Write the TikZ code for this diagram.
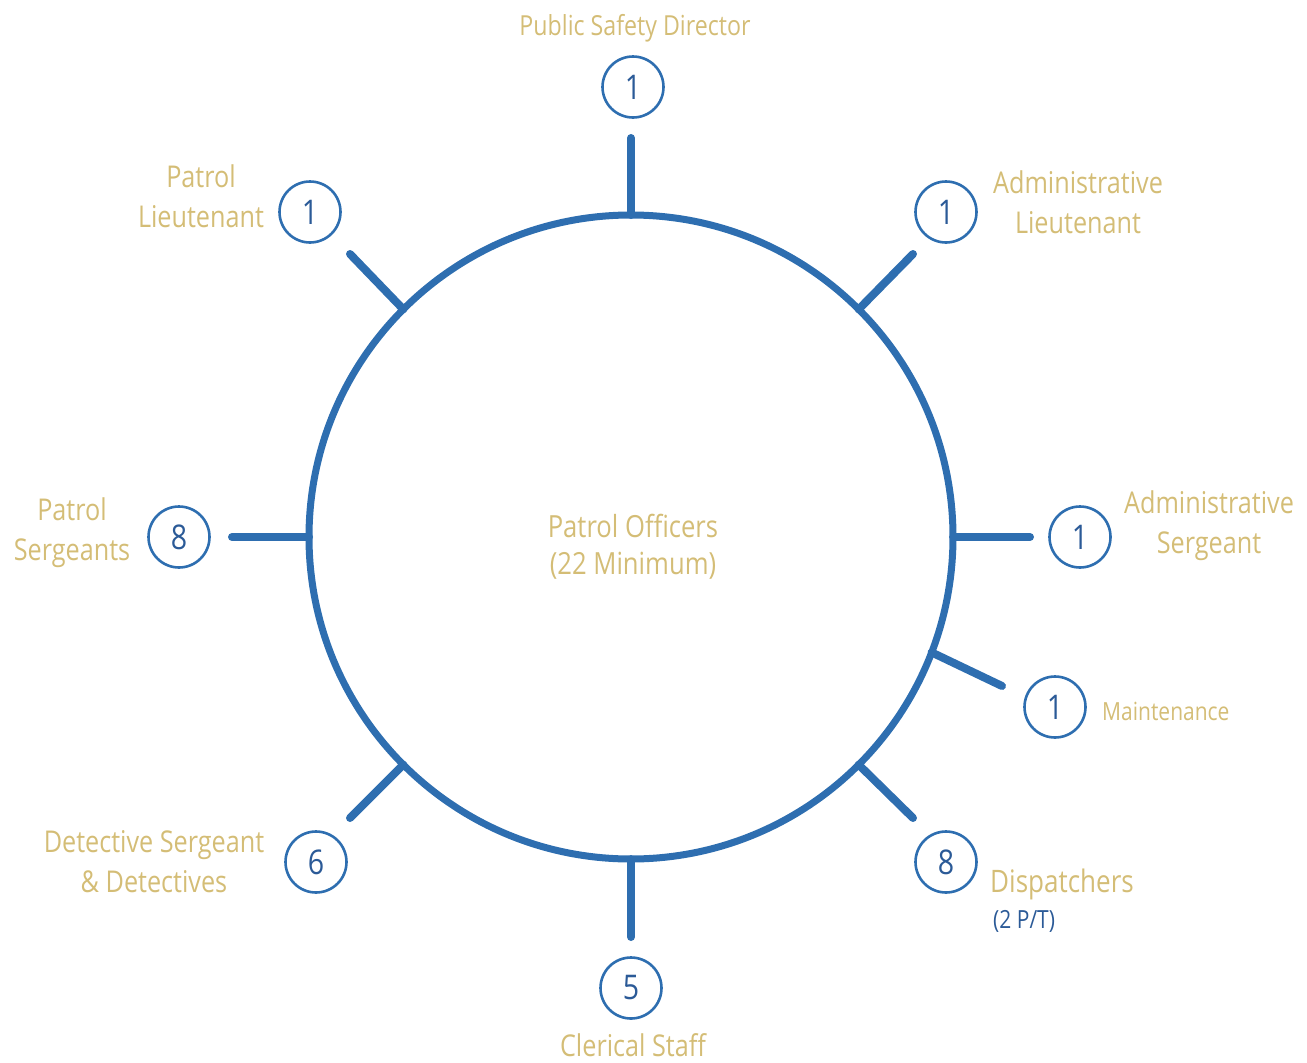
\documentclass[tikz,border=0pt]{standalone}
\usepackage{fontspec}
\setmainfont{Open Sans}[FakeStretch=0.84]
\definecolor{ringblue}{HTML}{2E6EB0}
\definecolor{numblue}{HTML}{2B5A97}
\definecolor{gold}{HTML}{D4BD76}
\begin{document}
\begin{tikzpicture}[x=1pt,y=-1pt,
  ring/.style={circle,draw=ringblue,line width=7pt,minimum size=644pt,inner sep=0pt,outer sep=0pt},
  count/.style={circle,draw=ringblue,line width=2.6pt,minimum size=61pt,inner sep=0pt,
    text=numblue,font=\fontsize{34}{34}\selectfont},
  spoke/.style={ringblue,line width=8pt,line cap=round},
  role/.style={text=gold,align=center,inner sep=0pt,anchor=base,
    font=\fontsize{30}{40}\selectfont},
  note/.style={text=gold,inner sep=0pt,anchor=base west,font=\fontsize{30}{30}\selectfont}]
\useasboundingbox (0,0) rectangle (1307,1063);

% central ring (labels are placed by the baseline of their last line)
\node[ring] (c) at (631,537) {};
\node[role,font=\fontsize{30.5}{37}\selectfont] (po) at (633,574) {Patrol Officers\\(22 Minimum)};

% position counts
\node[count] (n1) at (633,87) {1};
\node[count] (n2) at (310,212) {1};
\node[count] (n3) at (946,212) {1};
\node[count] (n4) at (1080,537) {1};
\node[count] (n5) at (1055,707) {1};
\node[count] (n6) at (946,862) {8};
\node[count] (n7) at (631,988) {5};
\node[count] (n8) at (316,862) {6};
\node[count] (n9) at (179,537) {8};

% free ends of the spokes
\coordinate (e1) at (631,138);
\coordinate (e2) at (350,254);
\coordinate (e3) at (913,254);
\coordinate (e4) at (1030,537);
\coordinate (e5) at (1002,686);
\coordinate (e6) at (913,818);
\coordinate (e7) at (631,937);
\coordinate (e8) at (350,818);
\coordinate (e9) at (232,537);

\draw[spoke] (c.90) -- (e1);
\draw[spoke] (c.135) -- (e2);
\draw[spoke] (c.45) -- (e3);
\draw[spoke] (c.0) -- (e4);
\draw[spoke] (c.-21.7) -- (e5);
\draw[spoke] (c.-45) -- (e6);
\draw[spoke] (c.-90) -- (e7);
\draw[spoke] (c.-135) -- (e8);
\draw[spoke] (c.180) -- (e9);

% role labels
\node[role,font=\fontsize{27.6}{30}\selectfont] (t1) at (635,35) {Public Safety Director};
\node[role] (t2) at (201,227) {Patrol\\Lieutenant};
\node[role] (t3) at (1078,233) {Administrative\\Lieutenant};
\node[role] (t4) at (1209,553) {Administrative\\Sergeant};
\node[note,font=\fontsize{25}{25}\selectfont] (t5) at (1102,720) {Maintenance};
\node[note,font=\fontsize{31}{31}\selectfont] (t6) at (990,892) {Dispatchers};
\node[note,text=numblue,font=\fontsize{25}{25}\selectfont] (t6b) at (993,928) {(2 P/T)};
\node[role] (t7) at (633,1056) {Clerical Staff};
\node[role] (t8) at (154,892) {Detective Sergeant\\\& Detectives};
\node[role] (t9) at (72,560) {Patrol\\Sergeants};
\end{tikzpicture}
\end{document}
